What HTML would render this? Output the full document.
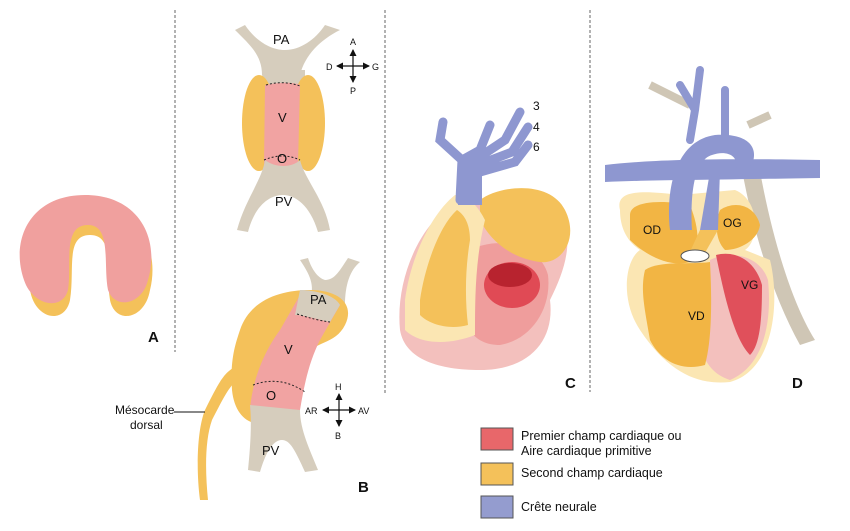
<!DOCTYPE html>
<html><head><meta charset="utf-8"><style>
html,body{margin:0;padding:0;background:#fff;width:850px;height:531px;overflow:hidden}
svg{display:block}
text{font-family:"Liberation Sans",sans-serif;fill:#111}
</style></head><body>
<svg width="850" height="531" viewBox="0 0 850 531" xmlns="http://www.w3.org/2000/svg">
<defs>
<marker id="ar" markerUnits="userSpaceOnUse" markerWidth="7" markerHeight="7" refX="6" refY="3.5" orient="auto-start-reverse"><path d="M0,0 L7,3.5 L0,7z" fill="#111"/></marker>
</defs>
<g stroke="#666" stroke-width="1" stroke-dasharray="3,2">
<line x1="175" y1="10" x2="175" y2="352"/>
<line x1="385" y1="10" x2="385" y2="395"/>
<line x1="590" y1="10" x2="590" y2="392"/>
</g>

<!-- Panel A -->
<path d="M30,290 C15,250 30,205 85,205 C140,205 160,250 150,290 C145,320 115,325 110,300 C105,270 115,235 90,235 C65,235 75,270 70,300 C65,325 35,320 30,290Z" fill="#f4c15a"/>
<path d="M24,280 C10,240 30,195 85,195 C140,195 160,240 148,280 C142,305 115,310 108,290 C103,265 112,225 88,225 C62,225 72,265 68,290 C62,312 32,305 24,280Z" fill="#f0a09e"/>
<text x="148" y="342" font-size="15" font-weight="bold">A</text>

<!-- Panel B top -->
<path d="M235,30 C250,45 262,55 262,75 L300,75 C305,55 320,40 340,30 L325,25 C315,40 300,50 285,50 C270,50 255,40 245,25Z" fill="#d6cdbd"/>
<path d="M262,70 L305,70 L305,150 L265,150Z" fill="#d6cdbd"/>
<ellipse cx="259" cy="123" rx="17" ry="48" fill="#f4c15a"/>
<ellipse cx="308" cy="123" rx="17" ry="48" fill="#f4c15a"/>
<path d="M265,85 C280,82 295,82 300,85 L298,165 C290,170 272,170 264,165Z" fill="#f1a3a2"/>
<path d="M265,160 C275,168 292,168 300,160 C305,180 325,200 330,230 L318,232 C310,205 295,195 283,195 C270,195 255,205 248,232 L237,230 C245,200 262,180 265,160Z" fill="#d6cdbd"/>
<path d="M266,85 Q283,80 300,86 M264,160 Q283,152 300,160" stroke="#222" stroke-dasharray="2,2" fill="none"/>
<text x="273" y="44" font-size="13">PA</text>
<text x="278" y="122" font-size="13">V</text>
<text x="277" y="163" font-size="13">O</text>
<text x="275" y="206" font-size="13">PV</text>
<g stroke="#111" stroke-width="1.2"><line x1="353" y1="50" x2="353" y2="82" marker-start="url(#ar)" marker-end="url(#ar)"/><line x1="337" y1="66" x2="369" y2="66" marker-start="url(#ar)" marker-end="url(#ar)"/></g>
<text x="350" y="45" font-size="9">A</text><text x="350" y="94" font-size="9">P</text><text x="326" y="70" font-size="9">D</text><text x="372" y="70" font-size="9">G</text>

<!-- Panel B bottom -->
<path d="M300,260 C310,275 315,285 310,300 L345,305 C345,285 350,270 360,262 L348,258 C340,270 335,280 325,280 C318,278 312,270 308,258Z" fill="#d6cdbd"/>
<path d="M240,330 C250,300 280,290 310,290 C340,290 355,305 345,325 C335,345 315,340 300,360 L275,420 C255,430 235,420 232,390 C230,360 235,345 240,330Z" fill="#f4c15a"/>
<path d="M205,410 C220,380 225,370 240,365 L245,375 C232,380 225,395 212,420 C205,440 205,470 208,500 L200,500 C196,470 197,430 205,410Z" fill="#f4c15a"/>
<path d="M300,295 L340,305 L320,340 C310,360 305,380 300,410 L250,410 C252,380 265,350 280,330Z" fill="#f1a3a2"/>
<path d="M300,290 C315,290 335,295 340,305 L330,322 C320,320 305,315 295,315Z" fill="#d6cdbd"/>
<path d="M250,405 L300,410 C300,430 310,450 318,470 L305,472 C295,450 290,440 282,440 C272,440 265,455 260,472 L248,470 C250,450 252,425 250,405Z" fill="#d6cdbd"/>
<path d="M253,385 Q280,375 305,392" stroke="#222" stroke-dasharray="2,2" fill="none"/>
<path d="M297,314 Q315,320 330,322" stroke="#222" stroke-dasharray="2,2" fill="none"/>
<text x="310" y="304" font-size="13">PA</text>
<text x="284" y="354" font-size="13">V</text>
<text x="266" y="400" font-size="13">O</text>
<text x="262" y="455" font-size="13">PV</text>
<g stroke="#111" stroke-width="1.2"><line x1="339" y1="394" x2="339" y2="426" marker-start="url(#ar)" marker-end="url(#ar)"/><line x1="323" y1="410" x2="355" y2="410" marker-start="url(#ar)" marker-end="url(#ar)"/></g>
<text x="335" y="390" font-size="9">H</text><text x="335" y="439" font-size="9">B</text><text x="305" y="414" font-size="9">AR</text><text x="358" y="414" font-size="9">AV</text>
<text x="115" y="414" font-size="12">Mésocarde</text>
<text x="130" y="429" font-size="12">dorsal</text>
<line x1="174" y1="412" x2="205" y2="412" stroke="#111"/>
<text x="358" y="492" font-size="15" font-weight="bold">B</text>

<!-- Panel C -->
<path d="M400,330 C395,280 420,220 460,200 L560,210 C575,240 565,270 550,300 C555,340 530,370 480,370 C440,370 405,360 400,330Z" fill="#f3c0bd"/>
<path d="M470,250 C500,235 540,245 548,275 C552,310 530,340 500,345 C470,345 460,320 462,295Z" fill="#ef9d9c"/>
<ellipse cx="512" cy="285" rx="28" ry="23" fill="#e04a55"/>
<ellipse cx="510" cy="275" rx="22" ry="12" fill="#b8232f"/>
<path d="M480,200 C500,185 550,180 565,210 C580,240 560,265 540,262 C510,258 490,240 480,220Z" fill="#f4c15a"/>
<path d="M405,300 C410,260 430,215 455,195 C470,195 480,210 485,220 C475,260 475,300 475,335 C450,345 420,345 405,330Z" fill="#fbe6b3"/>
<path d="M420,300 C425,265 440,225 457,210 C465,215 470,225 470,240 C465,270 465,300 468,325 C450,330 430,325 420,315Z" fill="#f4c15a"/>
<path d="M460,200 L462,160 L440,140 L443,122 M462,160 L480,150 L490,125 M475,160 L505,140 L520,112 M478,165 L512,152 L528,127 M480,172 L515,162 L528,145" stroke="#8e97d0" stroke-width="9" fill="none" stroke-linecap="round"/>
<rect x="458" y="155" width="24" height="50" fill="#8e97d0"/>
<text x="533" y="110" font-size="12">3</text>
<text x="533" y="131" font-size="12">4</text>
<text x="533" y="151" font-size="12">6</text>
<text x="565" y="388" font-size="15" font-weight="bold">C</text>

<!-- Panel D -->
<path d="M758,160 C770,230 790,300 815,340 L800,345 C775,300 755,240 742,170Z" fill="#cfc6b5"/>
<path d="M650,85 L690,105 M748,125 L770,115" stroke="#cfc6b5" stroke-width="8" fill="none"/>
<path d="M620,210 C615,190 640,190 680,195 L735,190 C760,200 760,240 745,250 L770,260 C780,300 775,370 730,382 C700,385 670,375 640,330 C620,300 625,260 640,250 C625,240 620,225 620,210Z" fill="#fbe6b3"/>
<path d="M710,260 C730,250 760,255 768,280 C772,320 765,365 730,380 C715,375 705,365 700,345 C705,320 710,290 710,260Z" fill="#f3c0bd"/>
<path d="M716,255 C735,250 755,260 762,285 C762,320 760,345 750,355 C735,340 725,300 716,255Z" fill="#e0505b"/>
<path d="M630,215 C630,200 665,200 690,205 C700,230 700,250 690,262 C670,268 645,255 630,240Z" fill="#f2b544"/>
<path d="M645,270 C660,260 690,265 710,262 C712,300 712,340 705,365 C680,372 660,360 650,340 C645,310 640,290 645,270Z" fill="#f2b544"/>
<path d="M720,210 C735,200 755,205 760,225 C758,240 740,250 725,250 C715,240 715,222 720,210Z" fill="#f2b544"/>
<path d="M605,165 C650,160 700,158 820,160 L820,178 C700,180 650,180 605,182Z" fill="#8e97d0"/>
<path d="M670,230 C665,180 680,140 715,135 C745,133 760,145 752,165 L735,168 C740,155 725,150 712,155 C695,160 690,190 692,230Z" fill="#8e97d0"/>
<path d="M680,85 L695,110 L690,140 M700,70 L695,110 M725,90 L725,140" stroke="#8e97d0" stroke-width="8" fill="none" stroke-linecap="round"/>
<path d="M712,160 L720,170 L718,230 L700,230Z" fill="#8e97d0"/>
<path d="M700,230 L718,230 L702,258 L688,256Z" fill="#f4c15a"/>
<ellipse cx="695" cy="256" rx="14" ry="6" fill="#fff" stroke="#555"/>
<text x="643" y="234" font-size="12">OD</text>
<text x="723" y="227" font-size="12">OG</text>
<text x="688" y="320" font-size="12">VD</text>
<text x="741" y="289" font-size="12">VG</text>
<text x="792" y="388" font-size="15" font-weight="bold">D</text>

<!-- Legend -->
<rect x="481" y="428" width="32" height="22" fill="#e8676a" stroke="#555"/>
<rect x="481" y="463" width="32" height="22" fill="#f4c15a" stroke="#555"/>
<rect x="481" y="496" width="32" height="22" fill="#949ccf" stroke="#555"/>
<text x="521" y="440" font-size="12.5">Premier champ cardiaque ou</text>
<text x="521" y="455" font-size="12.5">Aire cardiaque primitive</text>
<text x="521" y="477" font-size="12.5">Second champ cardiaque</text>
<text x="521" y="511" font-size="12.5">Crête neurale</text>
</svg>
</body></html>
